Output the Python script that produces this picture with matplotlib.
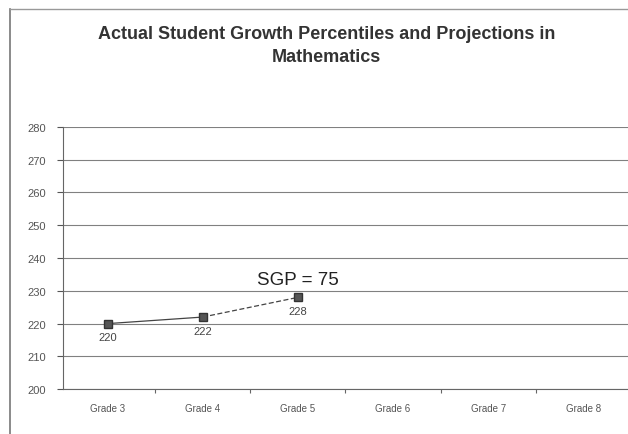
import matplotlib.pyplot as plt
from matplotlib.lines import Line2D

plt.rcParams['font.family'] = ['Liberation Sans', 'DejaVu Sans']

grades = ['Grade 3', 'Grade 4', 'Grade 5', 'Grade 6', 'Grade 7', 'Grade 8']
scores = [220, 222, 228]
score_labels = ['220', '222', '228']
yticks = [200, 210, 220, 230, 240, 250, 260, 270, 280]
sgp_text = 'SGP = 75'
sgp_y = 233.5

fig = plt.figure(figsize=(6.28, 4.35), dpi=100)
ax = fig.add_axes([0.1, 0.103, 0.9, 0.603])

x = list(range(len(scores)))
# actual growth grade 3 -> 4, then the grade 4 -> 5 step
ax.plot(x[:2], scores[:2], color='#444444', lw=0.9)
ax.plot(x[1:], scores[1:], color='#444444', lw=0.9, ls=(0, (4, 2)))
ax.plot(x, scores, ls='none', marker='s', markersize=6,
        markerfacecolor='#555555', markeredgecolor='#333333')
for xi, yi, lab in zip(x, scores, score_labels):
    ax.text(xi, yi - 2.6, lab, ha='center', va='top', fontsize=8, color='#444444')
ax.text(2, sgp_y, sgp_text, ha='center', va='center', fontsize=13.5, color='#222222')

ax.set_xlim(-0.47, 5.47)
ax.set_ylim(200, 280)
ax.set_xticks(range(len(grades)))
ax.set_xticklabels(grades, fontsize=7, color='#555555')
ax.set_xticks([i + 0.5 for i in range(len(grades) - 1)], minor=True)
ax.tick_params(axis='x', which='minor', length=3, width=0.8, colors='#666666')
ax.set_yticks(yticks)
ax.tick_params(axis='y', labelsize=8, colors='#555555', length=4, width=0.8, pad=8)
ax.tick_params(axis='x', which='major', length=0, pad=10)
ax.yaxis.grid(True, color='#808080', lw=0.8)
ax.set_axisbelow(True)
for side in ['top', 'right']:
    ax.spines[side].set_visible(False)
ax.spines['left'].set_color('#666666')
ax.spines['bottom'].set_color('#666666')

fig.text(0.52, 0.895, 'Actual Student Growth Percentiles and Projections in\nMathematics',
         ha='center', va='center', fontsize=13, fontweight='bold', color='#333333',
         linespacing=1.45)

# outer chart frame
fig.add_artist(Line2D([0.016, 0.016], [0.0, 0.977], color='#777777', lw=1.2))
fig.add_artist(Line2D([0.016, 1.0], [0.977, 0.977], color='#999999', lw=1.0))

fig.savefig('out.png', dpi=100)
